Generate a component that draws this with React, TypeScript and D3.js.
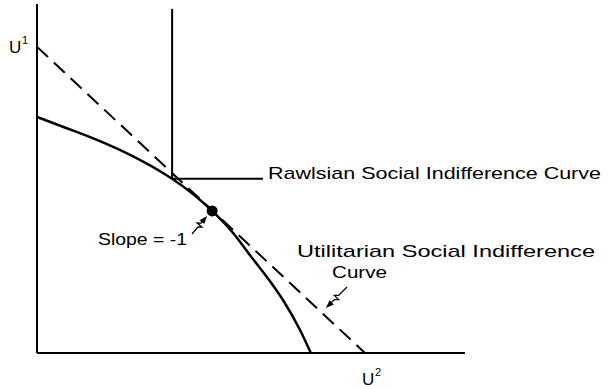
import React from "react";
import * as d3 from "d3";

// Data (U2 on x, U1 on y), units chosen so the utilitarian line has slope -1
const frontierU2 = [0, 0.79, 1.83, 2.84, 3.84, 4.12, 5.34, 5.98, 6.49, 7.01, 7.5, 8.02, 8.35];
const frontierU1 = [7.71, 7.39, 6.96, 6.47, 5.88, 5.69, 4.64, 3.92, 3.2, 2.48, 1.73, 0.75, 0];
const utilitarianU2 = [0, 10];
const utilitarianU1 = [10, 0];
const rawlsCorner = [4.12, 5.69];
const rawlsTopU1 = 11.24;
const rawlsRightU2 = 6.89;
const tangentPoint = [5.34, 4.64];
const axisMaxU2 = 13.05;
const axisMaxU1 = 11.4;

const W = 608;
const H = 389;

export default function App() {
  const x = d3.scaleLinear().domain([0, axisMaxU2]).range([37, 465]);
  const y = d3.scaleLinear().domain([0, axisMaxU1]).range([353, 4]);

  const frontier = frontierU2.map((u, i) => [u, frontierU1[i]] as [number, number]);
  const line = d3
    .line<[number, number]>()
    .x((d) => x(d[0]))
    .y((d) => y(d[1]))
    .curve(d3.curveMonotoneX);
  const straight = d3
    .line<[number, number]>()
    .x((d) => x(d[0]))
    .y((d) => y(d[1]));

  const util = utilitarianU2.map((u, i) => [u, utilitarianU1[i]] as [number, number]);

  const font = "'Liberation Sans', Arial, sans-serif";
  const fs = 17;

  // zig-zag arrow helper (pixel path from (x1,y1) to (x2,y2), arrowhead at end)
  const zigzag = (x1: number, y1: number, x2: number, y2: number) => {
    const dx = x2 - x1;
    const dy = y2 - y1;
    const len = Math.hypot(dx, dy);
    const ux = dx / len;
    const uy = dy / len;
    const nx = -uy;
    const ny = ux;
    const p = (t: number, o: number) => [x1 + dx * t + nx * o, y1 + dy * t + ny * o];
    const pts = [p(0, 0), p(0.4, 0), p(0.5, 3), p(0.5, -3), p(0.6, 0), p(0.78, 0)];
    return "M" + pts.map((q) => q.join(",")).join("L");
  };
  const head = (x1: number, y1: number, x2: number, y2: number) => {
    const dx = x2 - x1;
    const dy = y2 - y1;
    const len = Math.hypot(dx, dy);
    const ux = dx / len;
    const uy = dy / len;
    const nx = -uy;
    const ny = ux;
    const bx = x2 - ux * 8;
    const by = y2 - uy * 8;
    return `M${x2},${y2}L${bx + nx * 3},${by + ny * 3}L${bx - nx * 3},${by - ny * 3}Z`;
  };

  const a1 = [192, 234, 207, 216] as const;
  const a2 = [347, 287, 326, 308] as const;

  return (
    <svg width={W} height={H} style={{ position: "absolute", left: 0, top: 0, background: "#fff" }}>
      {/* axes */}
      <line x1={x(0)} y1={y(axisMaxU1)} x2={x(0)} y2={y(0)} stroke="#000" strokeWidth={2} />
      <line x1={x(0)} y1={y(0)} x2={x(axisMaxU2)} y2={y(0)} stroke="#000" strokeWidth={2} />

      {/* utilitarian dashed line */}
      <path d={straight(util) || ""} fill="none" stroke="#000" strokeWidth={2} strokeDasharray="15 8" />

      {/* frontier */}
      <path d={line(frontier) || ""} fill="none" stroke="#000" strokeWidth={2.5} />

      {/* Rawlsian L */}
      <line x1={x(rawlsCorner[0])} y1={y(rawlsTopU1)} x2={x(rawlsCorner[0])} y2={y(rawlsCorner[1])} stroke="#000" strokeWidth={2} />
      <line x1={x(rawlsCorner[0])} y1={y(rawlsCorner[1])} x2={x(rawlsRightU2)} y2={y(rawlsCorner[1])} stroke="#000" strokeWidth={2} />

      {/* tangent point */}
      <circle cx={x(tangentPoint[0])} cy={y(tangentPoint[1])} r={5.5} fill="#000" />

      {/* arrows */}
      <path d={zigzag(...a1)} fill="none" stroke="#000" strokeWidth={1.3} />
      <path d={head(...a1)} fill="#000" />
      <path d={zigzag(...a2)} fill="none" stroke="#000" strokeWidth={1.3} />
      <path d={head(...a2)} fill="#000" />

      {/* labels */}
      <g fontFamily={font} fontSize={fs} fill="#000">
        <text x={9} y={53}>U</text>
        <text x={22} y={44} fontSize={11}>1</text>
        <text x={362} y={385}>U</text>
        <text x={375} y={376} fontSize={11}>2</text>
        <text x={268} y={179} textLength={333} lengthAdjust="spacingAndGlyphs">Rawlsian Social Indifference Curve</text>
        <text x={297} y={257} textLength={298} lengthAdjust="spacingAndGlyphs">Utilitarian Social Indifference</text>
        <text x={332} y={278} textLength={55} lengthAdjust="spacingAndGlyphs">Curve</text>
        <text x={98} y={245} textLength={89} lengthAdjust="spacingAndGlyphs">Slope = -1</text>
      </g>
    </svg>
  );
}
